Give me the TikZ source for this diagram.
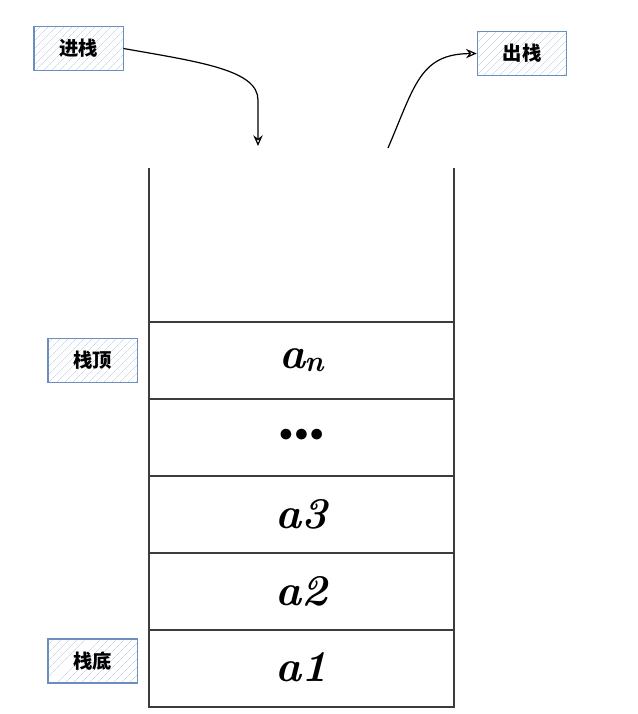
\documentclass[tikz,border=0pt]{standalone}
\usepackage{fontspec}
\newfontfamily\cjk{Noto Sans CJK SC}
\usetikzlibrary{arrows.meta,patterns.meta}
\definecolor{boxblue}{RGB}{108,142,191}
\definecolor{wallgray}{RGB}{60,60,60}
\tikzset{
	tagbox/.style={draw=boxblue, line width=1pt, pattern={Lines[angle=45,distance=4pt,line width=0.45pt]}, pattern color=boxblue!35,
		minimum width=67pt, minimum height=33pt, font=\cjk\bfseries\fontsize{14.5}{15}\selectfont},
	cell/.style={font=\bfseries\itshape\fontsize{33}{33}\selectfont},
	flow/.style={line width=0.9pt, -{Stealth[open,length=8pt,width=7pt]}}
}
\begin{document}
\begin{tikzpicture}[x=0.75pt,y=-0.75pt]
\useasboundingbox (0,0) rectangle (637,714);
% stack walls
\draw[line width=1.3pt, wallgray] (149,168) -- (149,707) -- (454,707) -- (454,168);
\foreach \y in {322,399,476,553,630}
{
	\draw[line width=1.3pt, wallgray] (149,\y) -- (454,\y);
}
\node[cell] (an) at (301.5,360) {a\kern-1pt\raisebox{-2pt}{\fontsize{22}{22}\selectfont n}};
\node[cell] (dots) at (301.5,435) {\fontsize{22}{22}\selectfont$\bullet\!\bullet\!\bullet$};
\node[cell] (a3) at (301.5,514) {a3};
\node[cell] (a2) at (301.5,591) {a2};
\node[cell] (a1) at (301.5,667) {a1};

% labels
\node[tagbox] (push) at (78.5,48.5) {进栈};
\node[tagbox] (pop) at (522,53.5) {出栈};
\node[tagbox] (top) at (92.5,360.5) {栈顶};
\node[tagbox] (bottom) at (92.5,661) {栈底};

\coordinate (pushend) at (258,146);
\coordinate (popstart) at (388,148);
\draw[flow] (push.east) .. controls (200,62) and (258,70) .. (258,100) -- (pushend);
\draw[flow] (popstart) .. controls (415,85) and (420,54) .. (pop.west);
\end{tikzpicture}
\end{document}
